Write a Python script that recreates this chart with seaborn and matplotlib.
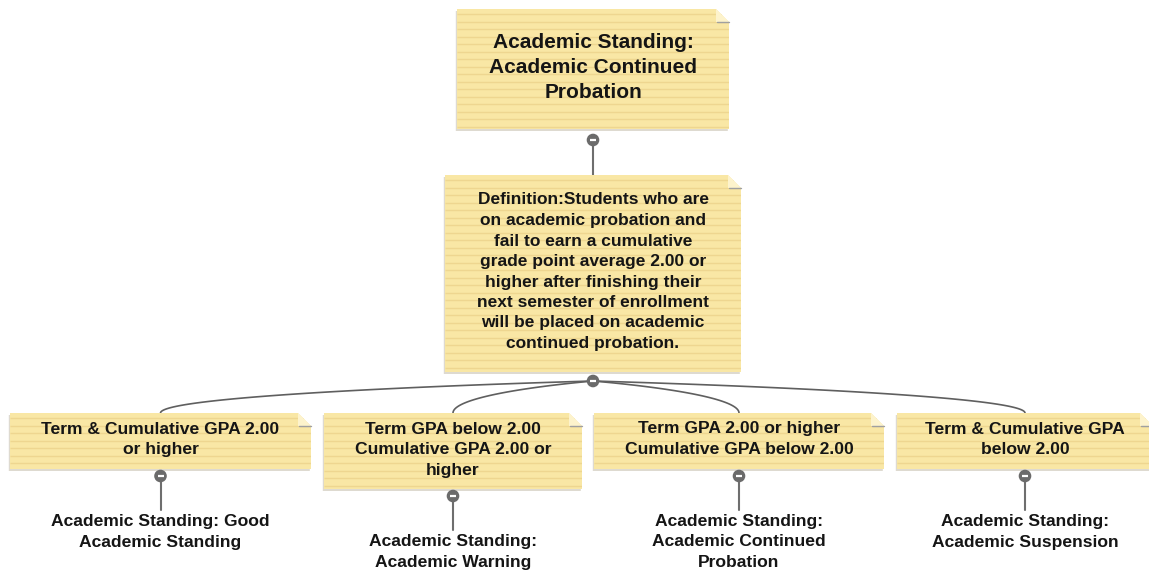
import numpy as np
import matplotlib
matplotlib.use("Agg")
import matplotlib.pyplot as plt
from matplotlib.patches import Polygon, Circle
import seaborn as sns

# node texts (top to bottom, left to right)
title_lines = ["Academic Standing:", "Academic Continued", "Probation"]
definition_lines = ["Definition:Students who are", "on academic probation and",
                    "fail to earn a cumulative", "grade point average 2.00 or",
                    "higher after finishing their", "next semester of enrollment",
                    "will be placed on academic", "continued probation."]
condition_lines = [["Term & Cumulative GPA 2.00", "or higher"],
                   ["Term GPA below 2.00", "Cumulative GPA 2.00 or", "higher"],
                   ["Term GPA 2.00 or higher", "Cumulative GPA below 2.00"],
                   ["Term & Cumulative GPA", "below 2.00"]]
outcome_lines = [["Academic Standing: Good", "Academic Standing"],
                 ["Academic Standing:", "Academic Warning"],
                 ["Academic Standing:", "Academic Continued", "Probation"],
                 ["Academic Standing:", "Academic Suspension"]]

# layout (pixels, y down)
title_box = (457, 9, 729, 129)
def_box = (445, 175, 741, 372)
cond_boxes = [(10, 413, 311, 469), (324, 413, 582, 489),
              (594, 413, 884, 469), (897, 413, 1153, 469)]

NOTE = "#f9e7a5"
RULE = "#eed690"
FOLD = "#fdf3cc"
KNOB = "#6b6b6b"
LINE = "#6e6e6e"
TXT = "#151515"

sns.set_theme(style="white")
plt.rcParams['font.family'] = ['Liberation Sans', 'DejaVu Sans']

fig = plt.figure(figsize=(11.49, 5.77), dpi=100)
ax = fig.add_axes([0, 0, 1, 1])
ax.set_xlim(0, 1149)
ax.set_ylim(577, 0)
ax.axis('off')


def note(box, fold=13):
    x0, y0, x1, y1 = box
    pts = [(x0, y0), (x1 - fold, y0), (x1, y0 + fold), (x1, y1), (x0, y1)]
    # soft shadow, same outline shifted down-left
    ax.add_patch(Polygon([(x - 1.2, y + 2) for x, y in pts], closed=True,
                         facecolor="#dedad0", edgecolor="none", zorder=2))
    body = Polygon(pts, closed=True, facecolor=NOTE, edgecolor="none", zorder=3)
    ax.add_patch(body)
    ys = np.arange(y0 + 5, y1, 7.5)
    rules = ax.hlines(ys, x0, x1, colors=RULE, linewidth=1.0, zorder=4)
    rules.set_clip_path(body)
    ax.add_patch(Polygon([(x1 - fold, y0), (x1 - fold, y0 + fold), (x1, y0 + fold)],
                         closed=True, facecolor=FOLD, edgecolor="none", zorder=5))
    ax.plot([x1 - fold + 1, x1], [y0 + fold, y0 + fold], color="#a0a0a0",
            linewidth=1.0, zorder=6)


def text_block(lines, cx, y_first, pitch, size):
    for i, s in enumerate(lines):
        ax.text(cx, y_first + i * pitch, s, ha='center', va='center',
                fontsize=size, fontweight='bold', color=TXT, zorder=8)


def knob(cx, cy):
    ax.add_patch(Circle((cx, cy), 6.3, facecolor=KNOB, edgecolor="none", zorder=9))
    ax.plot([cx - 3, cx + 3], [cy, cy], color="white", linewidth=1.6,
            solid_capstyle='butt', zorder=10)


def bezier(p0, p3):
    (xp, yp), (xc, yc) = p0, p3
    dx, dy = xc - xp, yc - yp
    p1 = (xp + 0.5 * dx, yp + 0.2 * dy)
    p2 = (xc, yp + 0.55 * dy)
    t = np.linspace(0, 1, 80)
    bx = (1 - t) ** 3 * xp + 3 * (1 - t) ** 2 * t * p1[0] + 3 * (1 - t) * t ** 2 * p2[0] + t ** 3 * xc
    by = (1 - t) ** 3 * yp + 3 * (1 - t) ** 2 * t * p1[1] + 3 * (1 - t) * t ** 2 * p2[1] + t ** 3 * yc
    return bx, by


# title node
note(title_box)
tcx = (title_box[0] + title_box[2]) / 2
text_block(title_lines, tcx, 43, 24.5, 15)
ax.plot([tcx, tcx], [140, def_box[1]], color=LINE, linewidth=1.5, zorder=1)
knob(tcx, 140)

# definition node
note(def_box)
dcx = (def_box[0] + def_box[2]) / 2
text_block(definition_lines, dcx, 200, 20.5, 12.5)
hub = (dcx, 381)

# branches
for box, cond, outc in zip(cond_boxes, condition_lines, outcome_lines):
    x0, y0, x1, y1 = box
    cx = (x0 + x1) / 2
    bx, by = bezier(hub, (cx, y0))
    sns.lineplot(x=bx, y=by, sort=False, estimator=None, color="#5f5f5f",
                 linewidth=1.2, ax=ax, zorder=1)
    note(box)
    text_block(cond, cx, 429, 20.8, 12.6)
    ky = y1 + 7
    ax.plot([cx, cx], [ky, ky + 34], color=LINE, linewidth=1.5, zorder=1)
    knob(cx, ky)
    text_block(outc, cx, ky + 45.5, 20.5, 12.6)

knob(*hub)

ax.set_xlim(0, 1149)
ax.set_ylim(577, 0)
fig.savefig("out.png", dpi=100, facecolor="white")
